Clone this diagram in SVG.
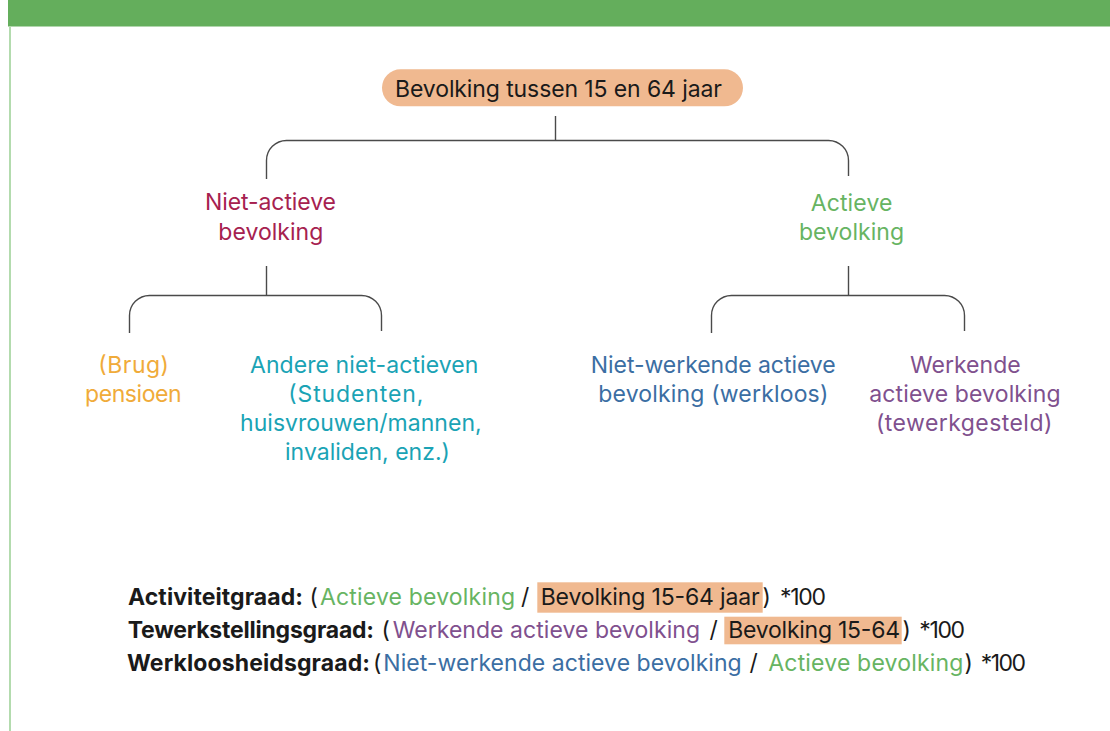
<svg xmlns="http://www.w3.org/2000/svg" width="1110" height="731" viewBox="0 0 1110 731">
<style>
text{font-family:Inter,"Liberation Sans",Arial,sans-serif;font-size:23px;fill:#1a1a1a}
.b{font-weight:700}
.cr{fill:#A6214F}.gr{fill:#67B462}.or{fill:#F0AB3A}.te{fill:#1AA3B5}.bl{fill:#3B6EA3}.pu{fill:#80508E}
.hl{fill:#F0B990}
.con{fill:none;stroke:#4a4a4a;stroke-width:1.4}
</style>
<rect width="1110" height="731" fill="#fff"/>
<rect x="8" y="0" width="1102" height="26.5" fill="#64AE5C"/>
<line x1="10" y1="26" x2="10" y2="731" stroke="#B3DBAE" stroke-width="2"/>
<g id="connectors" class="con">
<path d="M555.5,116 V140.5"/>
<path d="M266.5,179 V160.5 A20,20 0 0 1 286.5,140.5 H828.5 A20,20 0 0 1 848.5,160.5 V176"/>
<path d="M266.5,266 V295.5"/>
<path d="M129.5,333 V315.5 A20,20 0 0 1 149.5,295.5 H361.5 A20,20 0 0 1 381.5,315.5 V331"/>
<path d="M848.5,266 V295.5"/>
<path d="M711.5,333 V315.5 A20,20 0 0 1 731.5,295.5 H944.5 A20,20 0 0 1 964.5,315.5 V331"/>
</g>
<g id="root">
<rect x="382" y="69.3" width="361" height="37" rx="18.5" class="hl"/>
<text x="395" y="96.5" textLength="327" lengthAdjust="spacing">Bevolking tussen 15 en 64 jaar</text>
</g>
<g id="niet-actieve">
<text class="cr" x="205" y="210" textLength="131" lengthAdjust="spacing">Niet-actieve</text>
<text class="cr" x="218.3" y="239.5" textLength="105" lengthAdjust="spacing">bevolking</text>
</g>
<g id="actieve">
<text class="gr" x="810.7" y="210.5" textLength="81.7" lengthAdjust="spacing">Actieve</text>
<text class="gr" x="799" y="240" textLength="105" lengthAdjust="spacing">bevolking</text>
</g>
<g id="brugpensioen">
<text class="or" x="98.3" y="372.5" textLength="70.7" lengthAdjust="spacing">(Brug)</text>
<text class="or" x="85" y="401.5" textLength="96.7" lengthAdjust="spacing">pensioen</text>
</g>
<g id="andere">
<text class="te" x="250" y="372.5" textLength="228.3" lengthAdjust="spacing">Andere niet-actieven</text>
<text class="te" x="288.3" y="401.5" textLength="135" lengthAdjust="spacing">(Studenten,</text>
<text class="te" x="240" y="430.5" textLength="241.7" lengthAdjust="spacing">huisvrouwen/mannen,</text>
<text class="te" x="285" y="459.5" textLength="165" lengthAdjust="spacing">invaliden, enz.)</text>
</g>
<g id="niet-werkende">
<text class="bl" x="590.7" y="372.5" textLength="245" lengthAdjust="spacing">Niet-werkende actieve</text>
<text class="bl" x="598.3" y="401.5" textLength="230" lengthAdjust="spacing">bevolking (werkloos)</text>
</g>
<g id="werkende">
<text class="pu" x="910" y="372.5" textLength="110.7" lengthAdjust="spacing">Werkende</text>
<text class="pu" x="869.3" y="401.5" textLength="191.3" lengthAdjust="spacing">actieve bevolking</text>
<text class="pu" x="876" y="430.5" textLength="176.3" lengthAdjust="spacing">(tewerkgesteld)</text>
</g>
<g id="formulas">
<rect x="537.3" y="582.3" width="225.4" height="30.4" class="hl"/>
<rect x="724.3" y="616.7" width="177.4" height="27.6" class="hl"/>
<text class="b" x="128" y="605" textLength="175" lengthAdjust="spacing">Activiteitgraad:</text>
<text x="309.5" y="605">(</text>
<text class="gr" x="320" y="605" textLength="195" lengthAdjust="spacing">Actieve bevolking</text>
<text x="521" y="605">/</text>
<text x="540.7" y="605" textLength="219" lengthAdjust="spacing">Bevolking 15-64 jaar</text>
<text x="762.5" y="605">)</text>
<text x="780" y="605" textLength="46" lengthAdjust="spacing">*100</text>

<text class="b" x="127.7" y="638" textLength="246.3" lengthAdjust="spacing">Tewerkstellingsgraad:</text>
<text x="381.5" y="638">(</text>
<text class="pu" x="392.7" y="638" textLength="307.3" lengthAdjust="spacing">Werkende actieve bevolking</text>
<text x="709.5" y="638">/</text>
<text x="728.3" y="638" textLength="171.7" lengthAdjust="spacing">Bevolking 15-64</text>
<text x="902.5" y="638">)</text>
<text x="919.3" y="638" textLength="45.7" lengthAdjust="spacing">*100</text>

<text class="b" x="127" y="670.5" textLength="243" lengthAdjust="spacing">Werkloosheidsgraad:</text>
<text x="373" y="670.5">(</text>
<text class="bl" x="383.3" y="670.5" textLength="358.4" lengthAdjust="spacing">Niet-werkende actieve bevolking</text>
<text x="749.5" y="670.5">/</text>
<text class="gr" x="768.3" y="670.5" textLength="195" lengthAdjust="spacing">Actieve bevolking</text>
<text x="964.5" y="670.5">)</text>
<text x="980.7" y="670.5" textLength="45.3" lengthAdjust="spacing">*100</text>
</g>
</svg>
